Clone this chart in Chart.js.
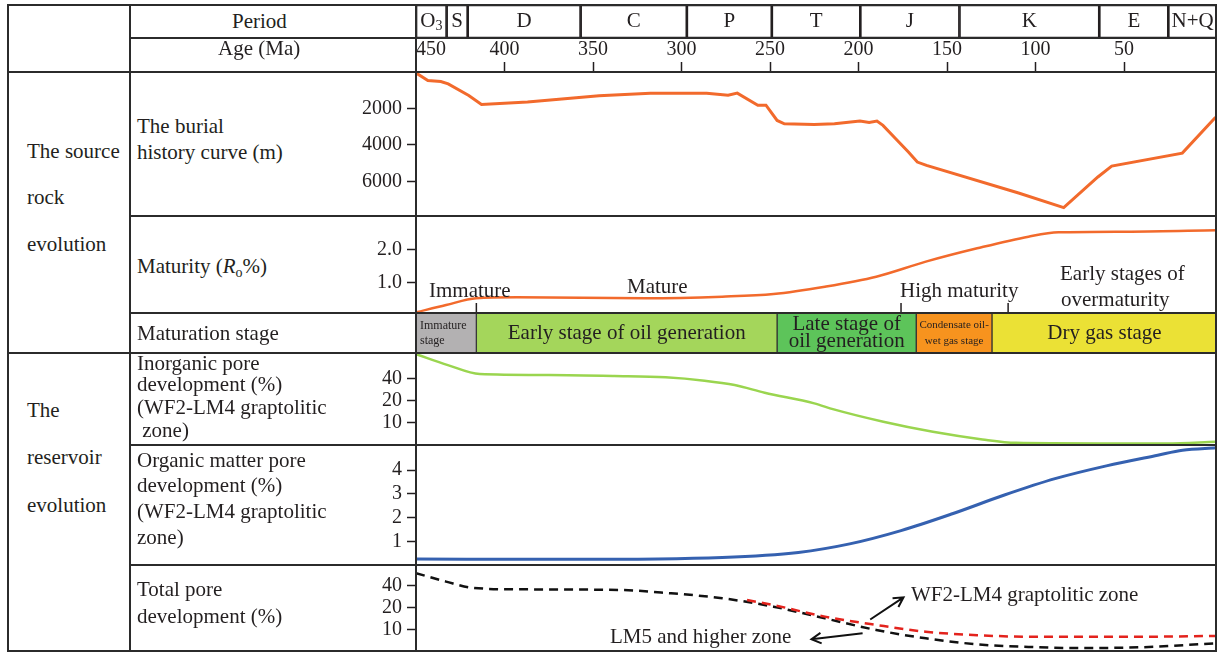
<!DOCTYPE html>
<html>
<head>
<meta charset="utf-8">
<title>Source rock and reservoir evolution</title>
<script src="https://cdn.jsdelivr.net/npm/chart.js@4.4.1/dist/chart.umd.min.js"></script>
<style>
  body { margin: 0; background: #fff; }
  #fig { position: relative; width: 1217px; height: 652px; overflow: hidden; font-family: 'Liberation Serif', 'DejaVu Serif', serif; color: #231f20; }
  #fig canvas { position: absolute; }
  .txt { position: absolute; font-size: 21px; line-height: 20px; white-space: pre; }
  .ln { position: absolute; background: #2b2b2b; }
  sub { font-size: 14px; vertical-align: -4px; line-height: 0; }
</style>
</head>
<body>
<div id="fig">
  <canvas id="periodChart" width="801" height="33" style="left:416px;top:5px"></canvas>
  <canvas id="burialChart" width="887" height="178" style="left:330px;top:38px"></canvas>
  <canvas id="maturityChart" width="887" height="97" style="left:330px;top:216px"></canvas>
  <canvas id="stageChart" width="801" height="40" style="left:416px;top:313px"></canvas>
  <canvas id="inorganicChart" width="887" height="92" style="left:330px;top:353px"></canvas>
  <canvas id="organicChart" width="887" height="120" style="left:330px;top:445px"></canvas>
  <canvas id="totalChart" width="887" height="87" style="left:330px;top:565px"></canvas>

  <!-- table rules -->
  <div class="ln" style="left:8px;top:4px;width:1209px;height:2px"></div>
  <div class="ln" style="left:130px;top:37px;width:1087px;height:2px"></div>
  <div class="ln" style="left:8px;top:71px;width:1209px;height:2px"></div>
  <div class="ln" style="left:130px;top:215px;width:1087px;height:2px"></div>
  <div class="ln" style="left:130px;top:312px;width:1087px;height:2px"></div>
  <div class="ln" style="left:8px;top:352px;width:1209px;height:2px"></div>
  <div class="ln" style="left:130px;top:444px;width:1087px;height:2px"></div>
  <div class="ln" style="left:130px;top:564px;width:1087px;height:2px"></div>
  <div class="ln" style="left:8px;top:650px;width:1209px;height:2px"></div>
  <div class="ln" style="left:7px;top:4px;width:2px;height:648px"></div>
  <div class="ln" style="left:129px;top:4px;width:2px;height:648px"></div>
  <div class="ln" style="left:415px;top:4px;width:2px;height:648px"></div>
  <div class="ln" style="left:1215px;top:4px;width:2px;height:648px"></div>

  <!-- row headings -->
  <div class="txt" style="left:232px;top:11px">Period</div>
  <div class="txt" style="left:218px;top:38px">Age (Ma)</div>
  <div class="txt" style="left:27px;top:141px">The source</div>
  <div class="txt" style="left:27px;top:187px">rock</div>
  <div class="txt" style="left:27px;top:234px">evolution</div>
  <div class="txt" style="left:27px;top:400px">The</div>
  <div class="txt" style="left:27px;top:447px">reservoir</div>
  <div class="txt" style="left:27px;top:495px">evolution</div>
  <div class="txt" style="left:137px;top:116px">The burial</div>
  <div class="txt" style="left:137px;top:142px">history curve (m)</div>
  <div class="txt" style="left:137px;top:256px">Maturity (<i>R</i><sub>o</sub>%)</div>
  <div class="txt" style="left:137px;top:323px">Maturation stage</div>
  <div class="txt" style="left:137px;top:353px">Inorganic pore</div>
  <div class="txt" style="left:137px;top:374px">development (%)</div>
  <div class="txt" style="left:137px;top:397px">(WF2-LM4 graptolitic</div>
  <div class="txt" style="left:137px;top:420px"> zone)</div>
  <div class="txt" style="left:137px;top:450px">Organic matter pore</div>
  <div class="txt" style="left:137px;top:475px">development (%)</div>
  <div class="txt" style="left:137px;top:501px">(WF2-LM4 graptolitic</div>
  <div class="txt" style="left:137px;top:527px">zone)</div>
  <div class="txt" style="left:137px;top:579px">Total pore</div>
  <div class="txt" style="left:137px;top:606px">development (%)</div>

  <!-- in-plot notes -->
  <div class="txt" style="left:429px;top:280px">Immature</div>
  <div class="txt" style="left:627px;top:276px">Mature</div>
  <div class="txt" style="left:900px;top:280px">High maturity</div>
  <div class="txt" style="left:1060px;top:263px">Early stages of</div>
  <div class="txt" style="left:1061px;top:289px">overmaturity</div>
  <div class="txt" style="left:911px;top:584px">WF2-LM4 graptolitic zone</div>
  <div class="txt" style="left:610px;top:626px">LM5 and higher zone</div>
</div>

<script>
// time axis, Ma (old on the left, present on the right)
const ageMin = -2.5;
const ageMax = 450;
const ageTicks = [450, 400, 350, 300, 250, 200, 150, 100, 50];

const periodNames = ['O', 'S', 'D', 'C', 'P', 'T', 'J', 'K', 'E', 'N+Q'];
const periodSubs = ['3', '', '', '', '', '', '', '', '', ''];
const periodStart = [450, 432.7, 420.8, 357, 297, 249, 199, 143, 64, 25];
const periodEnd = [432.7, 420.8, 357, 297, 249, 199, 143, 64, 25, -2.5];

// burial history (depth, m)
const burialAge = [450, 443.3, 436, 431.8, 420.2, 413, 387, 346.6, 317.6, 285.8, 273.7, 268.5, 256.9, 252.3, 246, 241.9, 225.1, 213.6, 199.2, 194, 189.6, 186.2, 179, 171.7, 166.8, 161.6, 109.6, 84.1, 64.8, 57, 17.1, -1.7];
const burialDepth = [50, 470, 520, 650, 1290, 1780, 1650, 1300, 1160, 1160, 1270, 1160, 1820, 1820, 2660, 2840, 2880, 2840, 2690, 2770, 2690, 2930, 3660, 4400, 4940, 5120, 6640, 7440, 5760, 5160, 4450, 2480];
const depthTicks = [2000, 4000, 6000];

// vitrinite reflectance Ro (%)
const roAge = [450, 433, 416, 393, 320, 277, 248, 219, 190, 162, 133, 104, 87, 46, -2];
const roValue = [0.11, 0.33, 0.53, 0.56, 0.53, 0.58, 0.66, 0.88, 1.18, 1.63, 2.03, 2.38, 2.51, 2.53, 2.57];
const roTicks = [1.0, 2.0];
const maturityBreaks = [415.9, 176, 115.5];

// maturation stages
const stageNames = [['Immature', 'stage'], ['Early stage of oil generation'], ['Late stage of', 'oil generation'], ['Condensate oil-', 'wet gas stage'], ['Dry gas stage']];
const stageStart = [450, 415.9, 246, 167.4, 124.6];
const stageEnd = [415.9, 246, 167.4, 124.6, -2.5];
const stageColors = ['#b3b1b2', '#a4d65b', '#5dc45a', '#f7931e', '#ebe135'];

// inorganic pores, WF2-LM4 (%)
const inorgAge = [450, 432, 414, 375, 338, 309, 287, 270, 253, 225, 214, 186, 158, 130, 111, 64, 26, -2];
const inorgValue = [87, 61.5, 46.4, 45, 43.6, 41.8, 37.6, 32.8, 25.7, 18.4, 15.2, 10.3, 7.5, 5.9, 5.3, 5.2, 5.2, 5.5];
const poreTicks = [10, 20, 40];

// organic matter pores, WF2-LM4 (%)
const orgAge = [450, 364, 277, 234, 205, 176, 147, 118, 89, 60, 31, 17, -2];
const orgValue = [0.25, 0.24, 0.32, 0.53, 0.89, 1.45, 2.16, 2.94, 3.64, 4.18, 4.63, 4.84, 4.94];
const orgTicks = [1, 2, 3, 4];

// total pores (%)
const lm5Age = [450, 433, 419, 393, 335, 306, 277, 248, 219, 190, 162, 133, 104, 75, 40, -2];
const lm5Value = [60, 45.9, 37.9, 35.9, 35.2, 31.6, 27, 20.6, 14.2, 9.8, 7.5, 6.2, 5.7, 5.5, 5.65, 6.4];
const wf2Age = [263, 248, 219, 190, 162, 133, 104, 75, 40, -2];
const wf2Value = [25.5, 21.7, 15, 11.5, 9.25, 8.3, 7.9, 7.9, 7.9, 8.1];
const arrowFrom = [[193.4, 13.7], [197.7, 8.8]];
const arrowTo = [[174.6, 27.8], [226.6, 7.3]];

const serif = "'Liberation Serif', 'DejaVu Serif', serif";
const ink = '#231f20';

const points = (xs, ys) => xs.map((x, i) => ({ x, y: ys[i] }));

function ageAxis() {
  return { type: 'linear', min: ageMin, max: ageMax, reverse: true, display: false };
}

function valueAxis(type, min, max, tickValues, reverse, fmt) {
  return {
    type, min, max, reverse,
    afterBuildTicks: s => { s.ticks = tickValues.map(v => ({ value: v })); },
    afterFit: s => { s.width = 86; s.paddingTop = 0; s.paddingBottom = 0; },
    grid: { drawOnChartArea: false, tickLength: 9, tickWidth: 1.5, tickColor: ink },
    border: { display: false },
    ticks: { autoSkip: false, padding: 5, color: ink, font: { family: serif, size: 20 }, callback: fmt || (v => String(v)) }
  };
}

function baseOptions(scales) {
  return {
    responsive: false,
    animation: false,
    devicePixelRatio: 1,
    layout: { padding: 0 },
    plugins: { legend: { display: false }, tooltip: { enabled: false } },
    elements: { point: { radius: 0 } },
    scales
  };
}

function line(data, color, width, smooth, dash) {
  return {
    data, borderColor: color, borderWidth: width, fill: false,
    tension: 0, cubicInterpolationMode: smooth ? 'monotone' : 'default',
    borderDash: dash || []
  };
}

// text inside floating bars (periods and stages)
const barText = {
  id: 'barText',
  afterDatasetsDraw(chart) {
    const ctx = chart.ctx;
    chart.data.datasets.forEach((ds, i) => {
      const bar = chart.getDatasetMeta(i).data[0];
      const left = Math.min(bar.x, bar.base);
      const right = Math.max(bar.x, bar.base);
      const size = ds.textSize || 21;
      const gap = ds.textGap || size;
      ctx.save();
      ctx.fillStyle = ink;
      ctx.font = size + 'px ' + serif;
      ctx.textBaseline = 'middle';
      if (ds.textSub) {
        const w = ctx.measureText(ds.textLines[0]).width;
        ctx.font = Math.round(size * 0.65) + 'px ' + serif;
        const ws = ctx.measureText(ds.textSub).width;
        const x0 = (left + right) / 2 - (w + ws) / 2;
        ctx.textAlign = 'left';
        ctx.fillText(ds.textSub, x0 + w, bar.y + 5);
        ctx.font = size + 'px ' + serif;
        ctx.fillText(ds.textLines[0], x0, bar.y);
      } else {
        ctx.textAlign = ds.textAlign || 'center';
        const cx = ds.textAlign === 'left' ? left + 4 : (left + right) / 2;
        const n = ds.textLines.length;
        ds.textLines.forEach((t, k) => ctx.fillText(t, cx, bar.y + (k - (n - 1) / 2) * gap));
      }
      ctx.restore();
    });
  }
};

function barOptions() {
  const o = baseOptions({
    x: ageAxis(),
    y: { type: 'category', display: false }
  });
  o.indexAxis = 'y';
  return o;
}

// period row
new Chart(document.getElementById('periodChart'), {
  type: 'bar',
  data: {
    labels: ['period'],
    datasets: periodNames.map((n, i) => ({
      data: [[periodStart[i], periodEnd[i]]],
      backgroundColor: 'rgba(0,0,0,0)', borderColor: ink, borderWidth: 1, borderSkipped: false,
      grouped: false, barPercentage: 1, categoryPercentage: 1,
      textLines: [n], textSub: periodSubs[i], textSize: 21
    }))
  },
  options: barOptions(),
  plugins: [barText]
});

// burial history with the age axis on top
const burialY = valueAxis('linear', 0, 7900, depthTicks, true);
new Chart(document.getElementById('burialChart'), {
  type: 'line',
  data: { datasets: [line(points(burialAge, burialDepth), '#f26a2c', 3, false)] },
  options: baseOptions({
    x: {
      type: 'linear', min: ageMin, max: ageMax, reverse: true, position: 'top',
      afterBuildTicks: s => { s.ticks = [ageMin].concat(ageTicks.slice().reverse()).map(v => ({ value: v })); },
      afterFit: s => { s.height = 34; s.paddingLeft = 0; s.paddingRight = 0; },
      grid: {
        drawOnChartArea: false, tickLength: 10, tickWidth: 1.5,
        tickColor: c => (c.tick && c.tick.value > ageMin && c.tick.value < ageMax) ? ink : 'rgba(0,0,0,0)'
      },
      border: { display: false },
      ticks: { align: 'inner', autoSkip: false, maxRotation: 0, padding: 0, color: ink, font: { family: serif, size: 20 }, callback: v => v < 0 ? '' : String(v) }
    },
    y: burialY
  })
});

// maturity
const breakTicks = {
  id: 'breakTicks',
  afterDatasetsDraw(chart) {
    const { ctx, chartArea, scales } = chart;
    ctx.save();
    ctx.strokeStyle = ink;
    ctx.lineWidth = 1.5;
    maturityBreaks.forEach(a => {
      const px = scales.x.getPixelForValue(a);
      ctx.beginPath();
      ctx.moveTo(px, chartArea.bottom);
      ctx.lineTo(px, chartArea.bottom - 10);
      ctx.stroke();
    });
    ctx.restore();
  }
};
new Chart(document.getElementById('maturityChart'), {
  type: 'line',
  data: { datasets: [line(points(roAge, roValue), '#f26a2c', 2.5, true)] },
  options: baseOptions({ x: ageAxis(), y: valueAxis('linear', 0.09, 3.0, roTicks, false, v => v.toFixed(1)) }),
  plugins: [breakTicks]
});

// maturation stage bar
const stageFont = [12, 21, 21, 11, 21];
const stageGap = [15, 0, 17, 16, 0];
new Chart(document.getElementById('stageChart'), {
  type: 'bar',
  data: {
    labels: ['stage'],
    datasets: stageNames.map((n, i) => ({
      data: [[stageStart[i], stageEnd[i]]],
      backgroundColor: stageColors[i], borderColor: '#333', borderWidth: 1, borderSkipped: false,
      grouped: false, barPercentage: 1, categoryPercentage: 1,
      textLines: n, textSize: stageFont[i], textGap: stageGap[i] || undefined,
      textAlign: i === 0 ? 'left' : 'center'
    }))
  },
  options: barOptions(),
  plugins: [barText]
});

// inorganic pores
new Chart(document.getElementById('inorganicChart'), {
  type: 'line',
  data: { datasets: [line(points(inorgAge, inorgValue), '#9ad54f', 2.5, true)] },
  options: baseOptions({ x: ageAxis(), y: valueAxis('logarithmic', 4.95, 90, poreTicks, false) })
});

// organic pores
new Chart(document.getElementById('organicChart'), {
  type: 'line',
  data: { datasets: [line(points(orgAge, orgValue), '#3561b0', 3, true)] },
  options: baseOptions({ x: ageAxis(), y: valueAxis('linear', 0, 5.06, orgTicks, false) })
});

// total pores with pointer arrows
const arrows = {
  id: 'arrows',
  afterDatasetsDraw(chart) {
    const { ctx, scales } = chart;
    ctx.save();
    ctx.strokeStyle = '#111';
    ctx.lineWidth = 2;
    arrowFrom.forEach((f, i) => {
      const x1 = scales.x.getPixelForValue(f[0]), y1 = scales.y.getPixelForValue(f[1]);
      const x2 = scales.x.getPixelForValue(arrowTo[i][0]), y2 = scales.y.getPixelForValue(arrowTo[i][1]);
      const ang = Math.atan2(y2 - y1, x2 - x1);
      ctx.beginPath();
      ctx.moveTo(x1, y1);
      ctx.lineTo(x2, y2);
      ctx.moveTo(x2 - 11 * Math.cos(ang - 0.5), y2 - 11 * Math.sin(ang - 0.5));
      ctx.lineTo(x2, y2);
      ctx.lineTo(x2 - 11 * Math.cos(ang + 0.5), y2 - 11 * Math.sin(ang + 0.5));
      ctx.stroke();
    });
    ctx.restore();
  }
};
new Chart(document.getElementById('totalChart'), {
  type: 'line',
  data: {
    datasets: [
      line(points(wf2Age, wf2Value), '#e3231d', 2.5, true, [9, 6]),
      line(points(lm5Age, lm5Value), '#111', 2.5, true, [9, 6])
    ]
  },
  options: baseOptions({ x: ageAxis(), y: valueAxis('logarithmic', 4.85, 78, poreTicks, false) }),
  plugins: [arrows]
});
</script>
</body>
</html>
